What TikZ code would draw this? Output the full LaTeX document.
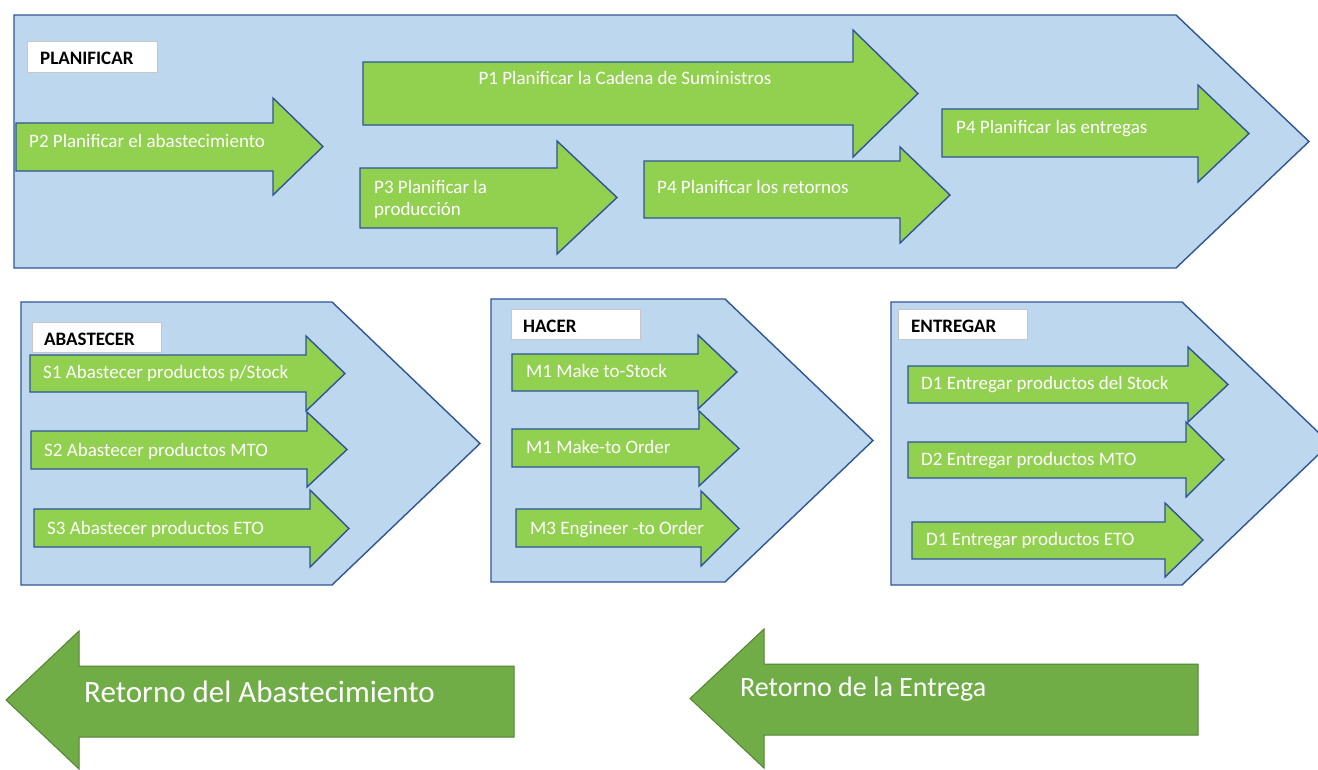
\documentclass[tikz,border=0pt]{standalone}
\usepackage{fontspec}
\setmainfont{Carlito}
\definecolor{panel}{HTML}{BDD7EE}
\definecolor{panelline}{HTML}{2F5597}
\definecolor{garrow}{HTML}{92D050}
\definecolor{darrow}{HTML}{70AD47}
\definecolor{darrowline}{HTML}{548235}
\tikzset{
 panelshape/.style={fill=panel, draw=panelline, line width=1.4pt, line join=miter},
 greenarrow/.style={fill=garrow, draw=panelline, line width=1.4pt},
 backarrow/.style={fill=darrow, draw=darrowline, line width=1pt},
 lbl/.style={anchor=base west, text=white, font=\fontsize{19}{22}\selectfont, inner sep=0pt},
 biglbl/.style={anchor=base west, text=white, font=\fontsize{31}{36}\selectfont, inner sep=0pt},
 midlbl/.style={anchor=base west, text=white, font=\fontsize{28}{33}\selectfont, inner sep=0pt},
 titlebox/.style={fill=white, draw=black!22, line width=0.8pt, anchor=north west, inner sep=0pt},
 titletext/.style={anchor=base west, font=\bfseries\fontsize{19}{22}\selectfont, inner sep=0pt},
}
% right-pointing block arrow: xl, xb, xtip, shaft top, shaft bottom, head top, head bottom
\newcommand\rarr[7]{\draw[greenarrow] (#1,#4) -- (#2,#4) -- (#2,#6) -- (#3,{(#6+#7)/2}) -- (#2,#7) -- (#2,#5) -- (#1,#5) -- cycle;}
% left-pointing block arrow: xtip, xb, xr, shaft top, shaft bottom, head top, head bottom
\newcommand\larr[7]{\draw[backarrow] (#1,{(#6+#7)/2}) -- (#2,#6) -- (#2,#4) -- (#3,#4) -- (#3,#5) -- (#2,#5) -- (#2,#7) -- cycle;}
% panel: xl, xc, xtip, ytop, ybottom
\newcommand\panelpoly[5]{\draw[panelshape] (#1,#4) -- (#2,#4) -- (#3,{(#4+#5)/2}) -- (#2,#5) -- (#1,#5) -- cycle;}
\begin{document}
\begin{tikzpicture}[x=1pt,y=-1pt]
\useasboundingbox (0,0) rectangle (1318,769);
\clip (0,0) rectangle (1318,769);
\fill[white] (0,0) rectangle (1318,769);

% ---------------- PLANIFICAR ----------------
\panelpoly{14}{1176}{1309}{15}{268}
\node[titlebox, minimum width=130pt, minimum height=31pt] (bplan) at (27,41) {};
\node[titletext] (tplan) at (40,64) {PLANIFICAR};

\rarr{363}{853}{918}{62}{125}{30}{157}
\node[lbl, anchor=base] (p1) at (625,84) {P1 Planificar la Cadena de Suministros};
\rarr{16}{273}{323}{123}{171}{98}{195}
\node[lbl] (p2) at (29,147) {P2 Planificar el abastecimiento};
\rarr{360}{557}{617}{168}{228}{141}{254}
\node[lbl] (p3a) at (374,193) {P3 Planificar la};
\node[lbl] (p3b) at (374,215) {producción};
\rarr{644}{900}{950}{161}{218}{147}{243}
\node[lbl] (p4r) at (657,193) {P4 Planificar los retornos};
\rarr{942}{1198}{1249}{109}{157}{85}{182}
\node[lbl] (p4e) at (956,133) {P4 Planificar las entregas};

% ---------------- ABASTECER ----------------
\panelpoly{21}{332}{480}{302}{585}
\node[titlebox, minimum width=129pt, minimum height=30pt] (babas) at (32,322) {};
\node[titletext] (tabas) at (44,345) {ABASTECER};
\rarr{30}{306}{345}{355}{392}{336}{411}
\node[lbl] (s1) at (43,378) {S1 Abastecer productos p/Stock};
\rarr{31}{307}{347}{431}{469}{412}{487}
\node[lbl] (s2) at (44,456) {S2 Abastecer productos MTO};
\rarr{34}{310}{349}{509}{547}{490}{567}
\node[lbl] (s3) at (47,534) {S3 Abastecer productos ETO};

% ---------------- HACER ----------------
\panelpoly{491}{725}{873}{299}{582}
\node[titlebox, minimum width=129pt, minimum height=30pt] (bhacer) at (511,309) {};
\node[titletext] (thacer) at (523,332) {HACER};
\rarr{512}{698}{737}{354}{391}{335}{409}
\node[lbl] (m1) at (526,377) {M1 Make to-Stock};
\rarr{512}{699}{739}{429}{467}{411}{486}
\node[lbl] (m2) at (526,453) {M1 Make-to Order};
\rarr{516}{701}{739}{509}{547}{491}{566}
\node[lbl] (m3) at (530,534) {M3 Engineer -to Order};

% ---------------- ENTREGAR ----------------
\panelpoly{891}{1182}{1330}{302}{585}
\node[titlebox, minimum width=129pt, minimum height=30pt] (bentr) at (898,309) {};
\node[titletext] (tentr) at (911,332) {ENTREGAR};
\rarr{908}{1188}{1228}{366}{403}{347}{422}
\node[lbl] (d1) at (921,389) {D1 Entregar productos del Stock};
\rarr{908}{1186}{1224}{442}{478}{422}{497}
\node[lbl] (d2) at (921,465) {D2 Entregar productos MTO};
\rarr{912}{1165}{1203}{522}{559}{503}{577}
\node[lbl] (d3) at (926,545) {D1 Entregar productos ETO};

% ---------------- Retornos ----------------
\larr{6}{79}{514}{666}{737}{631}{769}
\node[biglbl] (ra) at (84,702) {Retorno del Abastecimiento};
\larr{690}{764}{1198}{664}{735}{629}{768}
\node[midlbl] (re) at (740,696) {Retorno de la Entrega};
\end{tikzpicture}
\end{document}
